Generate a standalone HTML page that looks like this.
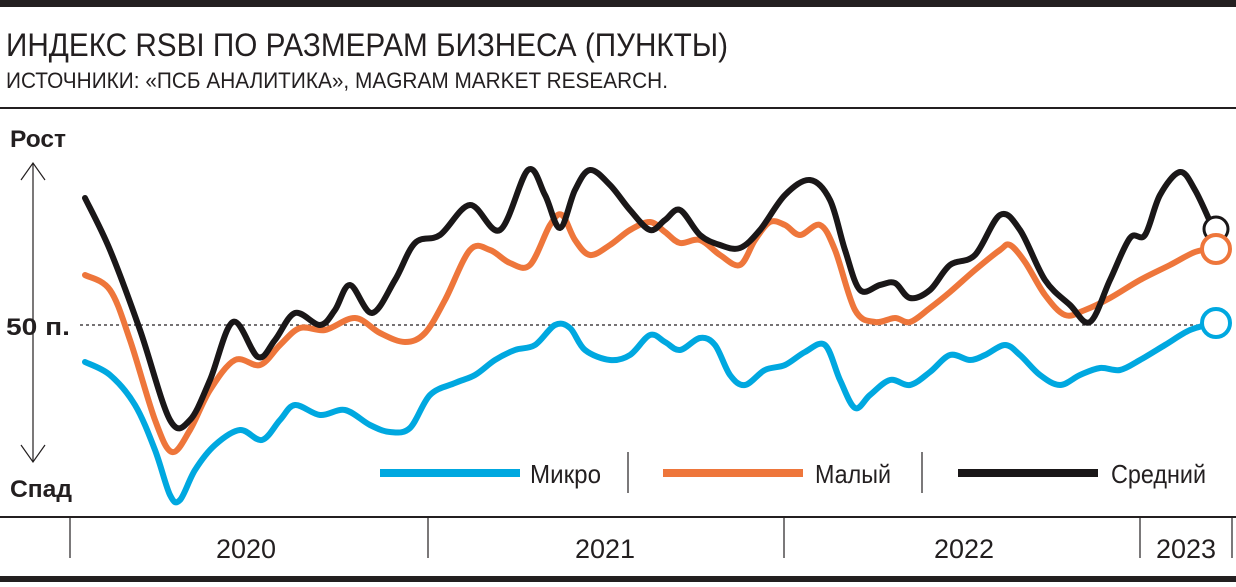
<!DOCTYPE html>
<html><head><meta charset="utf-8"><style>
body{margin:0;background:#fff;width:1236px;height:582px;overflow:hidden}
svg text{font-family:"Liberation Sans",sans-serif}
</style></head><body>
<svg id="s" width="1236" height="582" xmlns="http://www.w3.org/2000/svg">
<rect x="0" y="0" width="1236" height="7" fill="#231f20"/>
<text x="6" y="56" font-size="32" fill="#231f20" textLength="722" lengthAdjust="spacingAndGlyphs">ИНДЕКС RSBI ПО РАЗМЕРАМ БИЗНЕСА (ПУНКТЫ)</text>
<text x="6" y="88" font-size="22" fill="#231f20" textLength="662" lengthAdjust="spacingAndGlyphs">ИСТОЧНИКИ: «ПСБ АНАЛИТИКА», MAGRAM MARKET RESEARCH.</text>
<rect x="0" y="107" width="1236" height="2" fill="#231f20"/>
<text x="10" y="147" font-size="24" font-weight="bold" fill="#231f20" textLength="56" lengthAdjust="spacingAndGlyphs">Рост</text>
<text x="10" y="497" font-size="24" font-weight="bold" fill="#231f20" textLength="62" lengthAdjust="spacingAndGlyphs">Спад</text>
<text x="6" y="335" font-size="24" font-weight="bold" fill="#231f20" textLength="64" lengthAdjust="spacingAndGlyphs">50 п.</text>
<line x1="33" y1="163" x2="33" y2="462" stroke="#231f20" stroke-width="1.2"/>
<polyline points="21,180 33,163 45,180" fill="none" stroke="#231f20" stroke-width="1.2"/>
<polyline points="21,445 33,462 45,445" fill="none" stroke="#231f20" stroke-width="1.2"/>
<line x1="80" y1="325" x2="1205" y2="325" stroke="#231f20" stroke-width="1.2" stroke-dasharray="3,3"/>
<g id="lines"></g>
<line x1="380" y1="473" x2="520" y2="473" stroke="#00a8e0" stroke-width="8"/>
<text x="530" y="483" font-size="26" fill="#231f20" textLength="71" lengthAdjust="spacingAndGlyphs">Микро</text>
<line x1="628" y1="452" x2="628" y2="493" stroke="#231f20" stroke-width="1.2"/>
<line x1="663" y1="473" x2="803" y2="473" stroke="#ee763b" stroke-width="8"/>
<text x="815" y="483" font-size="26" fill="#231f20" textLength="76" lengthAdjust="spacingAndGlyphs">Малый</text>
<line x1="922" y1="452" x2="922" y2="493" stroke="#231f20" stroke-width="1.2"/>
<line x1="958" y1="473" x2="1098" y2="473" stroke="#1a1718" stroke-width="8"/>
<text x="1111" y="483" font-size="26" fill="#231f20" textLength="95" lengthAdjust="spacingAndGlyphs">Средний</text>
<rect x="0" y="516" width="1236" height="2" fill="#231f20"/>
<g stroke="#231f20" stroke-width="1.2">
<line x1="70" y1="518" x2="70" y2="558"/><line x1="428" y1="518" x2="428" y2="558"/>
<line x1="784" y1="518" x2="784" y2="558"/><line x1="1140" y1="518" x2="1140" y2="558"/>
<line x1="1232" y1="518" x2="1232" y2="558"/></g>
<g font-size="27" fill="#231f20" text-anchor="middle">
<text x="246" y="558">2020</text><text x="605" y="558">2021</text>
<text x="964" y="558">2022</text><text x="1186" y="558">2023</text></g>
<rect x="0" y="576" width="1236" height="6" fill="#231f20"/>
</svg>
<script>
function cr(p){let d="M"+p[0][0]+","+p[0][1];for(let i=0;i<p.length-1;i++){const a=p[i-1]||p[i],b=p[i],c=p[i+1],e=p[i+2]||c;
d+=" C"+(b[0]+(c[0]-a[0])/6)+","+(b[1]+(c[1]-a[1])/6)+" "+(c[0]-(e[0]-b[0])/6)+","+(c[1]-(e[1]-b[1])/6)+" "+c[0]+","+c[1];}return d;}
const K=[[85,198],[110,250],[140,330],[170,420],[190,420],[210,380],[233,322],[258,357],[275,340],[295,313],[320,325],[335,310],[350,285],[372,313],[395,280],[415,243],[440,235],[470,205],[500,230],[528,170],[545,195],[560,228],[575,190],[590,170],[610,185],[630,210],[650,230],[665,220],[680,210],[700,235],[720,245],[740,248],[760,230],[785,195],[810,180],[830,200],[845,250],[860,290],[880,285],[895,283],[910,298],[930,290],[950,265],[975,255],[1000,215],[1020,230],[1045,280],[1070,305],[1090,322],[1110,280],[1130,238],[1145,235],[1160,195],[1180,172],[1195,190],[1212,226]];
const O=[[85,275],[110,290],[130,340],[155,420],[172,452],[190,430],[210,390],[235,360],[260,365],[280,345],[300,328],[325,330],[355,318],[380,333],[405,342],[425,333],[445,300],[470,250],[490,250],[510,263],[530,265],[550,225],[562,215],[575,240],[590,255],[610,245],[630,230],[650,222],[665,232],[680,243],[700,240],[720,255],[740,265],[755,240],[770,222],[785,225],[800,235],[820,225],[835,250],[855,310],[875,322],[895,318],[910,322],[930,308],[950,292],[975,270],[1000,250],[1010,245],[1025,262],[1045,295],[1065,315],[1085,310],[1110,298],[1140,280],[1170,265],[1195,252],[1215,248]];
const B=[[85,362],[110,375],[135,405],[155,450],[170,495],[180,500],[195,470],[215,445],[240,430],[262,440],[280,420],[295,405],[320,415],[345,410],[370,425],[390,432],[410,428],[430,395],[455,383],[475,375],[495,360],[515,350],[535,345],[555,325],[570,328],[585,350],[610,360],[630,355],[650,335],[665,342],[680,350],[700,338],[715,345],[730,375],[745,385],[765,370],[785,365],[805,352],[825,345],[840,380],[855,408],[870,395],[890,380],[910,385],[930,372],[950,355],[970,360],[985,355],[1005,345],[1020,355],[1040,375],[1060,385],[1080,375],[1100,368],[1120,370],[1140,360],[1165,345],[1190,330],[1215,323]];
let h="";
[[B,"#00a8e0"],[O,"#ee763b"],[K,"#1a1718"]].forEach(([p,c])=>{h+='<path d="'+cr(p)+'" fill="none" stroke="'+c+'" stroke-width="6" stroke-linejoin="round" stroke-linecap="round"/>';});
h+='<circle cx="1216" cy="229" r="12" fill="#fff" stroke="#1a1718" stroke-width="3"/>';
h+='<circle cx="1216" cy="249" r="14" fill="#fff" stroke="#ee763b" stroke-width="4"/>';
h+='<circle cx="1216" cy="323" r="14" fill="#fff" stroke="#00a8e0" stroke-width="4"/>';
document.getElementById("lines").innerHTML=h;
</script>
</body></html>
